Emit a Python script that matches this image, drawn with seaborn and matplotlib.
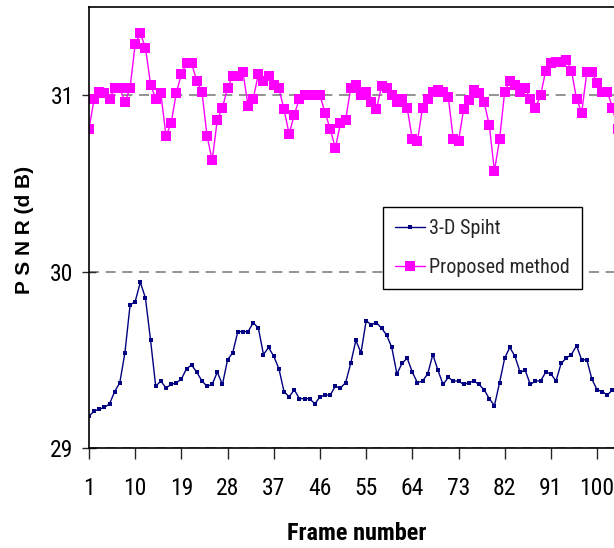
import matplotlib
matplotlib.use("Agg")
import matplotlib.pyplot as plt
from matplotlib import font_manager as fm
import pandas as pd
import seaborn as sns

# PSNR per frame
frames = list(range(1, 105))
spiht = [29.18, 29.21, 29.22, 29.23, 29.25, 29.32, 29.37, 29.54, 29.81, 29.83,
         29.94, 29.85, 29.61, 29.35, 29.38, 29.34, 29.36, 29.37, 29.39, 29.45,
         29.47, 29.43, 29.38, 29.35, 29.36, 29.43, 29.36, 29.50, 29.54, 29.66,
         29.66, 29.66, 29.71, 29.68, 29.53, 29.57, 29.52, 29.45, 29.32, 29.29,
         29.33, 29.28, 29.28, 29.28, 29.25, 29.29, 29.30, 29.30, 29.35, 29.34,
         29.37, 29.48, 29.61, 29.54, 29.72, 29.70, 29.71, 29.68, 29.64, 29.57,
         29.42, 29.48, 29.51, 29.43, 29.37, 29.38, 29.42, 29.53, 29.44, 29.36,
         29.40, 29.38, 29.38, 29.36, 29.37, 29.38, 29.36, 29.33, 29.28, 29.24,
         29.37, 29.51, 29.57, 29.52, 29.43, 29.44, 29.36, 29.38, 29.38, 29.43,
         29.42, 29.38, 29.48, 29.51, 29.53, 29.58, 29.50, 29.50, 29.39, 29.33,
         29.32, 29.30, 29.33, 29.33]
proposed = [30.81, 30.98, 31.02, 31.01, 30.98, 31.04, 31.04, 30.96, 31.04, 31.29,
            31.35, 31.27, 31.06, 30.98, 31.01, 30.77, 30.84, 31.01, 31.12, 31.18,
            31.18, 31.08, 31.02, 30.77, 30.63, 30.86, 30.93, 31.04, 31.11, 31.11,
            31.13, 30.94, 30.98, 31.12, 31.08, 31.11, 31.06, 31.04, 30.92, 30.78,
            30.89, 30.98, 31.00, 31.00, 31.00, 31.00, 30.90, 30.81, 30.70, 30.84,
            30.86, 31.04, 31.06, 31.00, 31.02, 30.96, 30.92, 31.05, 31.04, 31.00,
            30.96, 30.98, 30.93, 30.75, 30.74, 30.93, 30.98, 31.02, 31.03, 31.02,
            30.99, 30.75, 30.74, 30.92, 30.97, 31.03, 31.01, 30.96, 30.83, 30.57,
            30.75, 31.02, 31.08, 31.06, 31.02, 31.04, 30.98, 30.93, 31.00, 31.14,
            31.18, 31.19, 31.19, 31.20, 31.14, 30.98, 30.90, 31.13, 31.13, 31.07,
            31.02, 31.02, 30.93, 30.81]
x_ticks = [1, 10, 19, 28, 37, 46, 55, 64, 73, 82, 91, 100]
y_ticks = [29, 30, 31]

sns.set_style("white")

# look for a narrow sans font (Arial Narrow look of the original)
entries = fm.fontManager.ttflist
names = {f.name for f in entries}
narrow, stretch, scale = None, "normal", 1.0
for cand in ["Liberation Sans Narrow", "Arial Narrow", "Roboto Condensed",
             "DejaVu Sans Condensed", "Open Sans Condensed", "Noto Sans Condensed"]:
    if cand in names:
        narrow = cand
        break
if narrow is None:
    cond = [f for f in entries
            if "condensed" in str(f.stretch).lower() or "condensed" in f.fname.lower()
            or "narrow" in f.fname.lower()]
    if cond:
        pref = [f for f in cond if f.name in ("DejaVu Sans", "Liberation Sans", "Noto Sans", "Roboto")]
        narrow = (pref or cond)[0].name
        stretch = "condensed"
if narrow is None:
    narrow, scale = "Liberation Sans", 0.82

plt.rcParams["font.family"] = [narrow, "DejaVu Sans"]
plt.rcParams["font.stretch"] = stretch

fig = plt.figure(figsize=(6.14, 5.48), dpi=100)
ax = fig.add_axes([89 / 614, 1 - 448 / 548, 1 - 89 / 614, 441 / 548])

sns.lineplot(x=frames, y=spiht, ax=ax, color="#000080", lw=1, marker="s",
             markersize=3.5, markeredgewidth=0, label="3-D Spiht")
sns.lineplot(x=frames, y=proposed, ax=ax, color="#FF00FF", lw=1, marker="s",
             markersize=6.5, markeredgewidth=0, label="Proposed method")

ax.set_xlim(1, 103.3)
ax.set_ylim(29, 31.5)
ax.set_xticks(x_ticks)
ax.set_yticks(y_ticks)
ax.grid(axis="y", color="#808080", linestyle=(0, (6, 4)), lw=1.2)
ax.set_axisbelow(True)

for s in ["left", "bottom", "top"]:
    ax.spines[s].set_color("black")
    ax.spines[s].set_linewidth(1.2)
ax.spines["right"].set_visible(False)

ax.tick_params(axis="y", left=True, direction="inout", length=10, width=1,
               pad=6, labelsize=17 * scale, labelcolor="black")
ax.tick_params(axis="x", bottom=True, direction="out", length=8, width=1,
               pad=13, labelsize=17 * scale, labelcolor="black")

ax.set_xlabel("Frame number", fontsize=17.5 * scale, fontweight="bold", color="black")
ax.xaxis.label.set_va("center")
ax.xaxis.set_label_coords((357 - 89) / 525, (448 - 533) / 441)
ax.set_ylabel("P S N R (d B)", fontsize=15, fontweight="bold", color="black",
              family=["Liberation Sans", "DejaVu Sans"], fontstretch="normal")
ax.yaxis.label.set_va("center")
ax.yaxis.set_label_coords((24 - 89) / 525, (448 - 230) / 441)

leg = ax.legend(loc="upper left", bbox_to_anchor=(383 / 614, 1 - 207 / 548),
                bbox_transform=fig.transFigure, frameon=True, fancybox=False,
                edgecolor="black", framealpha=1, fontsize=14.5 * scale,
                handlelength=1.5, handletextpad=0.2, borderpad=0.6,
                labelspacing=1.0, borderaxespad=0)
leg.get_frame().set_linewidth(1)

fig.savefig("out.png", dpi=100)
